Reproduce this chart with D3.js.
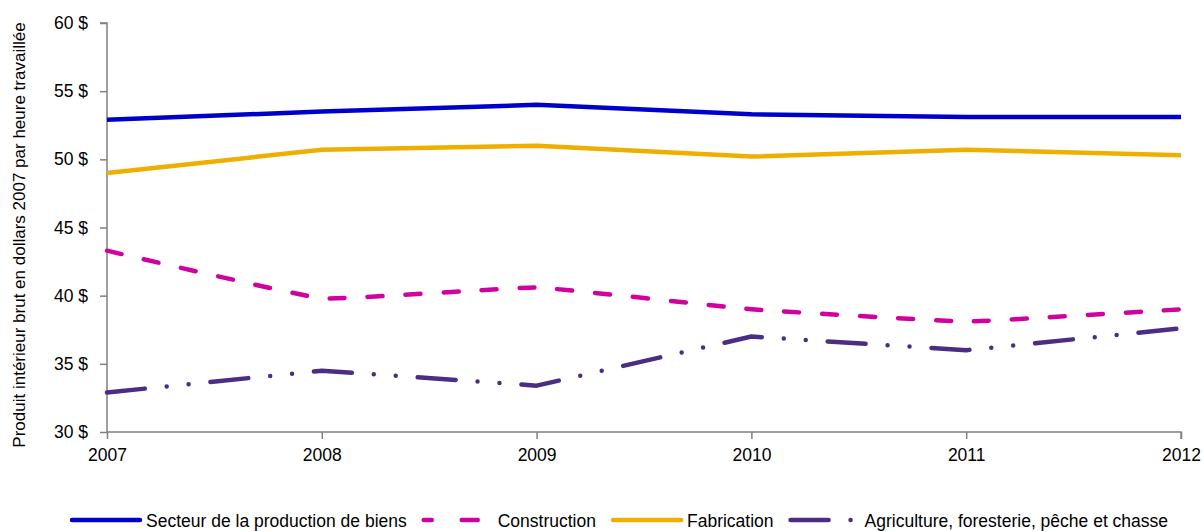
<!DOCTYPE html>
<html><head><meta charset="utf-8">
<script src="https://cdn.jsdelivr.net/npm/d3@7"></script>
<style>body{margin:0;background:#fff}svg{display:block}text{font-family:"Liberation Sans",Arial,sans-serif;fill:#000}</style>
</head><body><svg id="c" width="1204" height="531"></svg>
<script>
const years = [2007, 2008, 2009, 2010, 2011, 2012];
const yTicks = [30, 35, 40, 45, 50, 55, 60];
const seriesNames = ["Secteur de la production de biens", "Construction", "Fabrication", "Agriculture, foresterie, pêche et chasse"];
const biens = [52.9, 53.5, 54.0, 53.3, 53.1, 53.1];
const construction = [43.3, 39.8, 40.6, 39.0, 38.1, 39.0];
const fabrication = [49.0, 50.7, 51.0, 50.2, 50.7, 50.3];
const agriculture = [32.9, 34.5, 33.4, 37.0, 36.0, 37.6];
const yLabel = "Produit intérieur brut en dollars 2007 par heure travaillée";

const FS = "17.5px";
const series = [
  {name: seriesNames[0], values: biens, color: "#0000CC", dash: null, legDash: null, curve: d3.curveLinear},
  {name: seriesNames[1], values: construction, color: "#D2009E", dash: "15,23", legDash: "8,30,16,40", curve: d3.curveCardinal.tension(0.75)},
  {name: seriesNames[2], values: fabrication, color: "#EEAF00", dash: null, legDash: null, curve: d3.curveLinear},
  {name: seriesNames[3], values: agriculture, color: "#4B2D85", dash: "38,22,0,22,0,22", legDash: "38,22,0,40", curve: d3.curveLinear}
];

const svg = d3.select("#c");
const x = d3.scaleLinear().domain([2007, 2012]).range([107, 1181]);
const y = d3.scaleLinear().domain([30, 60]).range([432, 23]);

const gy = svg.append("g").attr("transform", "translate(107,0)")
  .call(d3.axisLeft(y).tickValues(yTicks).tickSize(7).tickPadding(12).tickFormat(d => d + " $"));
const gx = svg.append("g").attr("transform", "translate(0,432)")
  .call(d3.axisBottom(x).tickValues(years).tickSize(7).tickPadding(10).tickFormat(d3.format("d")));
[gx, gy].forEach(g => {
  g.select(".domain").attr("stroke", "#808080").attr("stroke-width", 1.5);
  g.selectAll(".tick line").attr("stroke", "#808080").attr("stroke-width", 1.5);
  g.selectAll("text").style("font-size", FS).style("font-family", "Liberation Sans, Arial, sans-serif").attr("fill", "#000");
});
gy.select(".domain").attr("d", "M-7,23H0V432");
gx.select(".domain").attr("d", "M107,0H1181V7");

svg.append("text").attr("transform", "translate(25,235) rotate(-90)")
  .attr("text-anchor", "middle").style("font-size", "17px").text(yLabel);

series.forEach(s => {
  const line = d3.line().x((d, i) => x(years[i])).y(d => y(d)).curve(s.curve);
  svg.append("path").attr("d", line(s.values)).attr("fill", "none")
    .attr("stroke", s.color).attr("stroke-width", 4.5)
    .attr("stroke-linecap", s.dash ? "round" : "butt").attr("stroke-linejoin", "round")
    .attr("stroke-dasharray", s.dash);
});

// legend
const leg = svg.append("g");
let lx = 70; const ly = 520;
series.forEach((s, i) => {
  const symW = 70;
  leg.append("line").attr("x1", lx + 2).attr("x2", lx + symW).attr("y1", ly).attr("y2", ly)
    .attr("stroke", s.color).attr("stroke-width", 4.5)
    .attr("stroke-linecap", "round")
    .attr("stroke-dasharray", s.legDash);
  const t = leg.append("text").attr("x", lx + symW + 6).attr("y", ly + 6.5).style("font-size", FS).text(s.name);
  lx += symW + 6 + t.node().getComputedTextLength() + 15;
});
</script></body></html>
